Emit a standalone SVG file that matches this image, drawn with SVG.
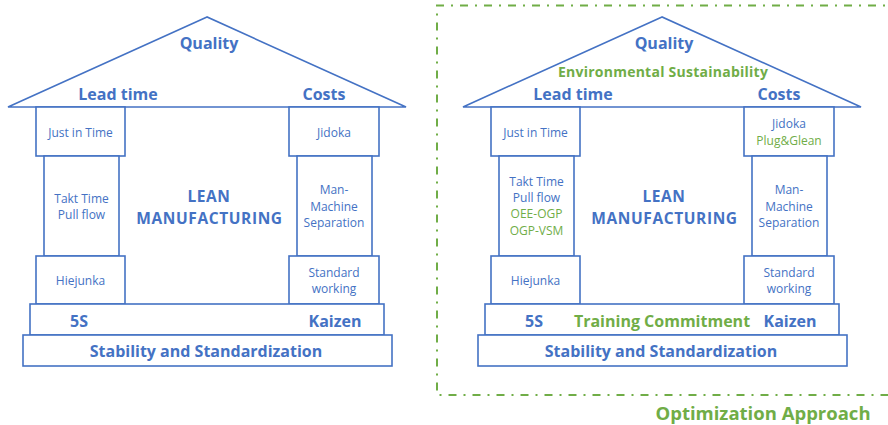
<svg xmlns="http://www.w3.org/2000/svg" width="888" height="425" viewBox="0 0 888 425">
  <style>
    .shape { fill: #ffffff; stroke: #4472C4; stroke-width: 1.6; }
    .t { font-family: "Open Sans", "Noto Sans", sans-serif; fill: #4472C4; text-anchor: middle; }
    .s { font-size: 12px; }
    .b { font-size: 16px; font-weight: bold; }
    .m { font-size: 15.5px; font-weight: bold; letter-spacing: 0.6px; }
    .g { fill: #70AD47; }
    .frame { fill: none; stroke: #70AD47; stroke-width: 2; stroke-dasharray: 8 7 2 7; }
  </style>

  <!-- Classic lean house -->
  <g id="house-lean">
    <g id="lean-roof">
      <polygon class="shape" points="207,17 8,107 406,107"/>
      <text class="t b" x="209" y="49">Quality</text>
      <text class="t b" x="118" y="100">Lead time</text>
      <text class="t b" x="324" y="100">Costs</text>
    </g>
    <g id="lean-jit">
      <rect class="shape" x="36" y="107" width="89" height="49"/>
      <text class="t s" x="80.5" y="137">Just in Time</text>
    </g>
    <g id="lean-jidoka">
      <rect class="shape" x="289" y="107" width="90" height="49"/>
      <text class="t s" x="334" y="137">Jidoka</text>
    </g>
    <g id="lean-takt">
      <rect class="shape" x="44" y="156" width="75" height="100"/>
      <text class="t s" x="81.5" y="203">Takt Time</text>
      <text class="t s" x="81.5" y="219">Pull flow</text>
    </g>
    <g id="lean-manmachine">
      <rect class="shape" x="297" y="156" width="75" height="100"/>
      <text class="t s" x="334" y="194">Man-</text>
      <text class="t s" x="334" y="211">Machine</text>
      <text class="t s" x="334" y="227">Separation</text>
    </g>
    <g id="lean-hiejunka">
      <rect class="shape" x="36" y="256" width="89" height="48"/>
      <text class="t s" x="80.5" y="285">Hiejunka</text>
    </g>
    <g id="lean-standard">
      <rect class="shape" x="289" y="256" width="90" height="48"/>
      <text class="t s" x="334" y="277">Standard</text>
      <text class="t s" x="334" y="293">working</text>
    </g>
    <g id="lean-base">
      <rect class="shape" x="30" y="304" width="354" height="31"/>
      <text class="t b" x="79" y="327">5S</text>
      <text class="t b" x="335" y="327">Kaizen</text>
    </g>
    <g id="lean-foundation">
      <rect class="shape" x="23" y="335" width="369" height="31"/>
      <text class="t b" x="206" y="357">Stability and Standardization</text>
    </g>
    <g id="lean-title">
      <text class="t m" x="209" y="202">LEAN</text>
      <text class="t m" x="209.5" y="224">MANUFACTURING</text>
    </g>
  </g>

  <!-- Extended house with the optimisation additions -->
  <g id="house-optimized">
    <g id="opt-roof">
      <polygon class="shape" points="662,17 463,107 861,107"/>
      <text class="t b" x="664" y="49">Quality</text>
      <text class="t b g" x="663" y="77" style="font-size:14px;letter-spacing:0.25px">Environmental Sustainability</text>
      <text class="t b" x="573" y="100">Lead time</text>
      <text class="t b" x="779" y="100">Costs</text>
    </g>
    <g id="opt-jit">
      <rect class="shape" x="491" y="107" width="89" height="49"/>
      <text class="t s" x="535.5" y="137">Just in Time</text>
    </g>
    <g id="opt-jidoka">
      <rect class="shape" x="744" y="107" width="90" height="49"/>
      <text class="t s" x="789" y="128">Jidoka</text>
      <text class="t s g" x="789" y="145">Plug&amp;Glean</text>
    </g>
    <g id="opt-takt">
      <rect class="shape" x="499" y="156" width="75" height="100"/>
      <text class="t s" x="536.5" y="186">Takt Time</text>
      <text class="t s" x="536.5" y="202">Pull flow</text>
      <text class="t s g" x="536.5" y="218">OEE-OGP</text>
      <text class="t s g" x="536.5" y="235">OGP-VSM</text>
    </g>
    <g id="opt-manmachine">
      <rect class="shape" x="752" y="156" width="75" height="100"/>
      <text class="t s" x="789" y="194">Man-</text>
      <text class="t s" x="789" y="211">Machine</text>
      <text class="t s" x="789" y="227">Separation</text>
    </g>
    <g id="opt-hiejunka">
      <rect class="shape" x="491" y="256" width="89" height="48"/>
      <text class="t s" x="535.5" y="285">Hiejunka</text>
    </g>
    <g id="opt-standard">
      <rect class="shape" x="744" y="256" width="90" height="48"/>
      <text class="t s" x="789" y="277">Standard</text>
      <text class="t s" x="789" y="293">working</text>
    </g>
    <g id="opt-base">
      <rect class="shape" x="485" y="304" width="354" height="31"/>
      <text class="t b" x="534" y="327">5S</text>
      <text class="t b g" x="662" y="327">Training Commitment</text>
      <text class="t b" x="790" y="327">Kaizen</text>
    </g>
    <g id="opt-foundation">
      <rect class="shape" x="478" y="335" width="369" height="31"/>
      <text class="t b" x="661" y="357">Stability and Standardization</text>
    </g>
    <g id="opt-title">
      <text class="t m" x="664" y="202">LEAN</text>
      <text class="t m" x="664.5" y="224">MANUFACTURING</text>
    </g>
  </g>

  <!-- Dash-dot frame around the optimised approach (runs off the right edge) -->
  <g id="connectors">
    <path class="frame" d="M 900,5.5 L 437,5.5 L 437,395 L 900,395"/>
  </g>
  <g id="frame-label">
    <text class="t b g" x="763" y="420" style="font-size:18.5px">Optimization Approach</text>
  </g>
</svg>
